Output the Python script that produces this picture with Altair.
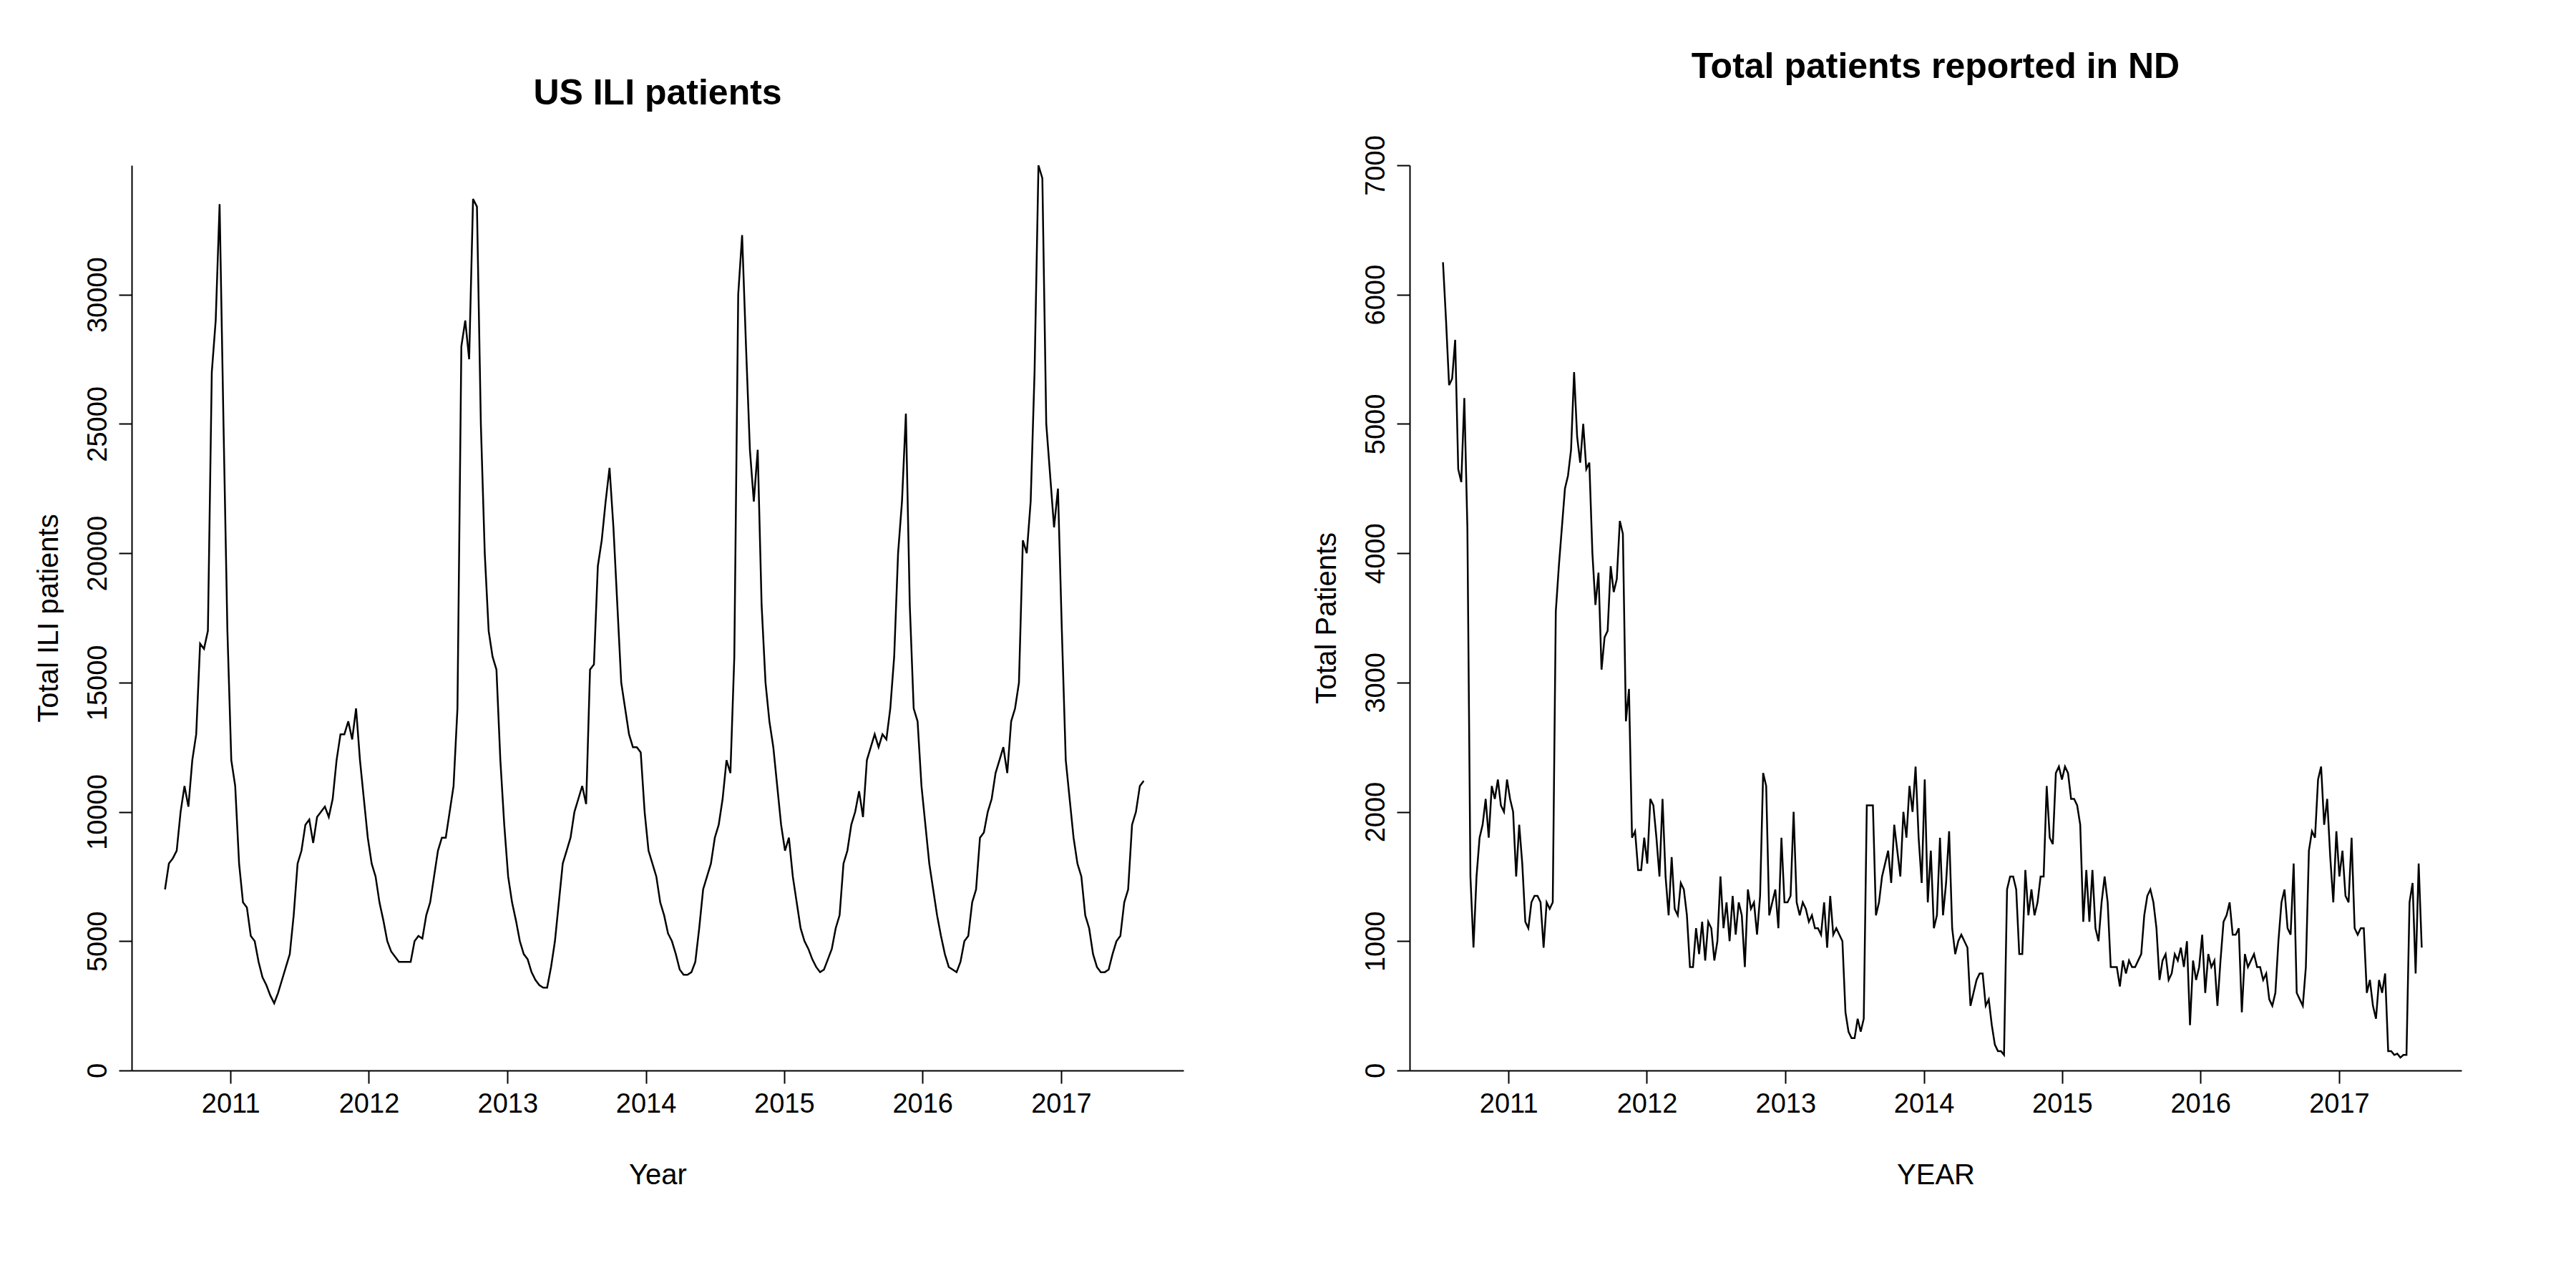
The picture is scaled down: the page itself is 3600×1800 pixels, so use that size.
import altair as alt
import pandas as pd

us_ili = [
    7000, 8000, 8200, 8500, 10000, 11000, 10200, 12000, 13000, 16500, 16300, 17000, 27000, 29000, 33500,
    25000, 17000, 12000, 11000, 8000, 6500, 6300, 5200, 5000, 4200, 3600, 3300, 2900, 2600, 3000,
    3500, 4000, 4500, 6000, 8000, 8500, 9500, 9700, 8800, 9800, 10000, 10200, 9800, 10500, 12000,
    13000, 13000, 13500, 12800, 14000, 12000, 10500, 9000, 8000, 7500, 6500, 5800, 5000, 4600, 4400,
    4200, 4200, 4200, 4200, 5000, 5200, 5100, 6000, 6500, 7500, 8500, 9000, 9000, 10000, 11000,
    14000, 28000, 29000, 27500, 33700, 33400, 25000, 20000, 17000, 16000, 15500, 12000, 9500, 7500, 6500,
    5800, 5000, 4500, 4300, 3800, 3500, 3300, 3200, 3200, 4000, 5000, 6500, 8000, 8500, 9000,
    10000, 10500, 11000, 10300, 15500, 15700, 19500, 20500, 22000, 23300, 21000, 18000, 15000, 14000, 13000,
    12500, 12500, 12300, 10000, 8500, 8000, 7500, 6500, 6000, 5300, 5000, 4500, 3900, 3700, 3700,
    3800, 4200, 5500, 7000, 7500, 8000, 9000, 9500, 10500, 12000, 11500, 16000, 30000, 32300, 28000,
    24000, 22000, 24000, 18000, 15000, 13500, 12500, 11000, 9500, 8500, 9000, 7500, 6500, 5500, 5000,
    4700, 4300, 4000, 3800, 3900, 4300, 4700, 5500, 6000, 8000, 8500, 9500, 10000, 10800, 9800,
    12000, 12500, 13000, 12500, 13000, 12800, 14000, 16000, 20000, 22000, 25400, 18000, 14000, 13500, 11000,
    9500, 8000, 7000, 6000, 5200, 4500, 4000, 3900, 3800, 4200, 5000, 5200, 6500, 7000, 9000,
    9200, 10000, 10500, 11500, 12000, 12500, 11500, 13500, 14000, 15000, 20500, 20000, 22000, 27000, 35000,
    34500, 25000, 23000, 21000, 22500, 17000, 12000, 10500, 9000, 8000, 7500, 6000, 5500, 4500, 4000,
    3800, 3800, 3900, 4500, 5000, 5200, 6500, 7000, 9500, 10000, 11000, 11200,
]

nd_total = [
    6250, 5800, 5300, 5350, 5650, 4650, 4550, 5200, 4200, 1500, 950, 1500, 1800, 1900, 2100,
    1800, 2200, 2100, 2250, 2050, 2000, 2250, 2100, 2000, 1500, 1900, 1600, 1150, 1100, 1300,
    1350, 1350, 1300, 950, 1300, 1250, 1300, 3550, 3900, 4200, 4500, 4600, 4800, 5400, 4900,
    4700, 5000, 4650, 4700, 4000, 3600, 3850, 3100, 3350, 3400, 3900, 3700, 3800, 4250, 4150,
    2700, 2950, 1800, 1850, 1550, 1550, 1800, 1600, 2100, 2050, 1800, 1500, 2100, 1500, 1200,
    1650, 1250, 1200, 1450, 1400, 1200, 800, 800, 1100, 900, 1150, 850, 1150, 1100, 850,
    1000, 1500, 1100, 1300, 1000, 1350, 1050, 1300, 1200, 800, 1400, 1250, 1300, 1050, 1350,
    2300, 2200, 1200, 1300, 1400, 1100, 1800, 1300, 1300, 1350, 2000, 1300, 1200, 1300, 1250,
    1150, 1200, 1100, 1100, 1050, 1300, 950, 1350, 1050, 1100, 1050, 1000, 450, 300, 250,
    250, 400, 300, 400, 2050, 2050, 2050, 1200, 1300, 1500, 1600, 1700, 1450, 1900, 1700,
    1500, 2000, 1800, 2200, 2000, 2350, 1800, 1450, 2250, 1300, 1700, 1100, 1200, 1800, 1200,
    1450, 1850, 1100, 900, 1000, 1050, 1000, 950, 500, 600, 700, 750, 750, 500, 550,
    350, 200, 150, 150, 120, 1400, 1500, 1500, 1400, 900, 900, 1550, 1200, 1400, 1200,
    1300, 1500, 1500, 2200, 1800, 1750, 2300, 2350, 2250, 2350, 2300, 2100, 2100, 2050, 1900,
    1150, 1550, 1150, 1550, 1100, 1000, 1300, 1500, 1300, 800, 800, 800, 650, 850, 750,
    850, 800, 800, 850, 900, 1200, 1350, 1400, 1300, 1100, 700, 850, 900, 700, 750,
    900, 850, 950, 800, 1000, 350, 850, 700, 800, 1050, 600, 900, 800, 850, 500,
    850, 1150, 1200, 1300, 1050, 1050, 1100, 450, 900, 800, 850, 900, 800, 800, 700,
    750, 550, 500, 600, 1000, 1300, 1400, 1100, 1050, 1600, 600, 550, 500, 800, 1700,
    1850, 1800, 2250, 2350, 1900, 2100, 1650, 1300, 1850, 1500, 1700, 1350, 1300, 1800, 1100,
    1050, 1100, 1100, 600, 700, 500, 400, 700, 600, 750, 150, 150, 120, 130, 100,
    120, 120, 1300, 1450, 750, 1600, 950,
]

us_df = pd.DataFrame({
    "date": pd.date_range("2010-07-12", "2017-08-07", periods=len(us_ili)),
    "value": us_ili,
})
nd_df = pd.DataFrame({
    "date": pd.date_range("2010-07-12", "2017-08-07", periods=len(nd_total)),
    "value": nd_total,
})

years = [alt.DateTime(year=y, month=1, date=1) for y in range(2011, 2018)]
x_dom = [alt.DateTime(year=2010, month=4, date=15), alt.DateTime(year=2017, month=11, date=20)]

FONT = "Liberation Sans"


def panel(df, title, xtitle, ytitle, ymax, yticks):
    return (
        alt.Chart(df, title=alt.Title(title, fontSize=50, font=FONT, fontWeight="bold", offset=70))
        .mark_line(color="black", strokeWidth=2.5)
        .encode(
            x=alt.X("date:T", title=xtitle, scale=alt.Scale(domain=x_dom),
                    axis=alt.Axis(values=years, format="%Y", titlePadding=60)),
            y=alt.Y("value:Q", title=ytitle, scale=alt.Scale(domain=[0, ymax], nice=False),
                    axis=alt.Axis(values=yticks, format="d", labelAngle=-90, labelAlign="center",
                                  labelBaseline="bottom", titlePadding=30)),
        )
        .properties(width=1470, height=1265)
    )


left = panel(us_df, "US ILI patients", "Year", "Total ILI patients", 35000,
             list(range(0, 35000, 5000)))
right = panel(nd_df, "Total patients reported in ND", "YEAR", "Total Patients", 7000,
              list(range(0, 7001, 1000)))

chart = (
    alt.hconcat(left, right, spacing=180)
    .properties(background="white", padding={"left": 40, "top": 60, "right": 20, "bottom": 20})
    .configure_view(stroke=None)
    .configure_axis(grid=False, domainColor="black", tickColor="black", labelColor="black",
                    titleColor="black", labelFont=FONT, titleFont=FONT, labelFontSize=38,
                    titleFontSize=40, titleFontWeight="normal", tickSize=18, domainWidth=2,
                    tickWidth=2, labelPadding=10)
)

chart.save("out.html", embed_options={"renderer": "svg", "actions": False})
